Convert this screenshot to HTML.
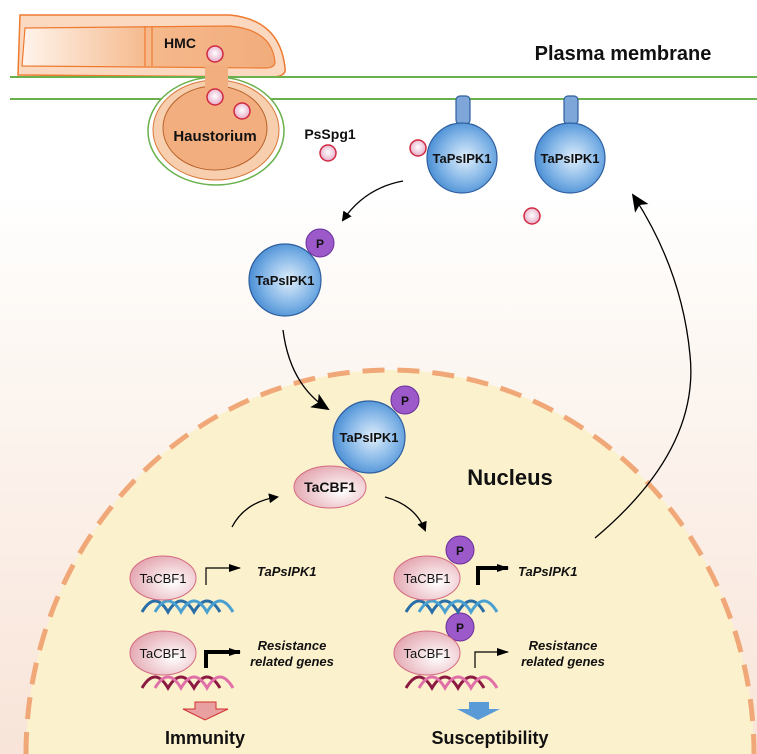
<!DOCTYPE html>
<html><head><meta charset="utf-8"><style>
html,body{margin:0;padding:0;background:#fff;width:757px;height:754px;overflow:hidden}
svg{display:block;overflow:hidden}
text{font-family:"Liberation Sans",Arial,sans-serif;font-weight:bold;fill:#111}
</style></head><body>
<svg width="757" height="754" viewBox="0 0 757 754" xmlns="http://www.w3.org/2000/svg">
<defs>
<linearGradient id="cyto" x1="0" y1="0" x2="0" y2="1">
<stop offset="0" stop-color="#ffffff"/><stop offset="0.25" stop-color="#fdf8f4"/><stop offset="1" stop-color="#f8e4d8"/>
</linearGradient>
<radialGradient id="blue" cx="0.55" cy="0.5" r="0.6">
<stop offset="0" stop-color="#dfeefb"/><stop offset="0.6" stop-color="#7fb3e6"/><stop offset="1" stop-color="#3d85cf"/>
</radialGradient>
<radialGradient id="pink" cx="0.65" cy="0.6" r="0.7">
<stop offset="0" stop-color="#ffffff"/><stop offset="1" stop-color="#e3a4ae"/>
</radialGradient>
<radialGradient id="dot" cx="0.5" cy="0.45" r="0.6">
<stop offset="0" stop-color="#ffffff"/><stop offset="1" stop-color="#e4a4c4"/>
</radialGradient>
<linearGradient id="hyph" x1="0" y1="0" x2="1" y2="0">
<stop offset="0" stop-color="#fff4ec"/><stop offset="0.5" stop-color="#f5b98c"/><stop offset="1" stop-color="#f2ac7c"/>
</linearGradient>
<marker id="ah" markerWidth="10" markerHeight="10" refX="8" refY="5" orient="auto" markerUnits="userSpaceOnUse">
<path d="M0,0 L10,5 L0,10 z" fill="#000"/></marker>
<marker id="ahb" markerWidth="18" markerHeight="16" refX="16" refY="8" orient="auto" markerUnits="userSpaceOnUse">
<path d="M0,0 L18,8 L0,16 L4,8 z" fill="#000"/></marker>
<marker id="ahs" markerWidth="12" markerHeight="8" refX="11" refY="4" orient="auto" markerUnits="userSpaceOnUse">
<path d="M0,0 L12,4 L0,8 z" fill="#000"/></marker>
</defs>
<rect x="0" y="190" width="757" height="564" fill="url(#cyto)"/>
<rect x="0" y="0" width="757" height="190" fill="#fff"/>
<path d="M26,754 A364,384 0 0,1 754,754 Z" fill="#fcf1cd"/>
<path d="M26,754 A364,384 0 0,1 754,754" fill="none" stroke="#f0a878" stroke-width="5" stroke-dasharray="22,13"/>
<path d="M20,15 L230,15 Q280,20 285,68 Q287,77 270,77 L18,75 Z" fill="#fbd9c0" stroke="#ee7a30" stroke-width="1.5"/>
<path d="M25,28 L230,26 Q272,30 275,62 Q275,68 265,68 L22,66 Z" fill="url(#hyph)" stroke="#ee7a30" stroke-width="1.2"/>
<line x1="145" y1="26" x2="145" y2="66" stroke="#ee7a30" stroke-width="1.2"/>
<line x1="152" y1="26" x2="152" y2="66" stroke="#ee7a30" stroke-width="1.2"/>
<line x1="10" y1="77" x2="757" y2="77" stroke="#6ab04c" stroke-width="2"/>
<line x1="10" y1="99" x2="757" y2="99" stroke="#6ab04c" stroke-width="2"/>
<ellipse cx="216" cy="131" rx="68" ry="54" fill="#fff" stroke="#6ab04c" stroke-width="1.5"/>
<ellipse cx="216" cy="130" rx="63" ry="50" fill="#f8cfae" stroke="#d8783a" stroke-width="1"/>
<ellipse cx="215" cy="128" rx="52" ry="42" fill="#f2ae7e" stroke="#b8622a" stroke-width="1"/>
<rect x="205" y="65" width="23" height="24" fill="#f2ae7e"/>
<text x="180" y="48" font-size="14" text-anchor="middle">HMC</text>
<text x="215" y="141" font-size="15" text-anchor="middle">Haustorium</text>
<text x="330" y="139" font-size="14" text-anchor="middle">PsSpg1</text>
<g fill="url(#dot)" stroke="#d02a40" stroke-width="1.5">
<circle cx="215" cy="54" r="8"/><circle cx="215" cy="97" r="8"/><circle cx="242" cy="111" r="8"/>
<circle cx="328" cy="153" r="8"/><circle cx="418" cy="148" r="8"/><circle cx="532" cy="216" r="8"/>
</g>
<text x="623" y="60" font-size="20" text-anchor="middle">Plasma membrane</text>
<g stroke="#2f5f9f" stroke-width="1.2">
<rect x="456" y="96" width="14" height="28" rx="4" fill="#7ea6d8"/>
<rect x="564" y="96" width="14" height="28" rx="4" fill="#7ea6d8"/>
<circle cx="462" cy="158" r="35" fill="url(#blue)"/>
<circle cx="570" cy="158" r="35" fill="url(#blue)"/>
<circle cx="285" cy="280" r="36" fill="url(#blue)"/>
<circle cx="369" cy="437" r="36" fill="url(#blue)"/>
</g>
<g font-size="13" text-anchor="middle">
<text x="462" y="163">TaPsIPK1</text><text x="570" y="163">TaPsIPK1</text>
<text x="285" y="285">TaPsIPK1</text><text x="369" y="442">TaPsIPK1</text>
</g>
<g fill="#9b59c9" stroke="#6a2f9a" stroke-width="1">
<circle cx="320" cy="243" r="14"/><circle cx="405" cy="400" r="14"/>
<circle cx="460" cy="550" r="14"/><circle cx="460" cy="627" r="14"/>
</g>
<g font-size="12" text-anchor="middle"><text x="320" y="248">P</text><text x="405" y="405">P</text><text x="460" y="555">P</text><text x="460" y="632">P</text></g>
<ellipse cx="330" cy="487" rx="36" ry="21" fill="url(#pink)" stroke="#d46a82" stroke-width="1"/>
<text x="330" y="492" font-size="14" text-anchor="middle">TaCBF1</text>
<g fill="none" stroke="#000" stroke-width="1.3">
<path d="M403,181 Q365,188 343,220" marker-end="url(#ah)"/>
<path d="M283,330 Q290,385 328,409" marker-end="url(#ahb)"/>
<path d="M232,527 Q245,502 277,497" marker-end="url(#ah)"/>
<path d="M385,497 Q415,505 425,530" marker-end="url(#ah)"/>
<path d="M595,538 Q700,450 690,355 Q682,270 633,195" marker-end="url(#ahb)"/>
</g>
<text x="510" y="485" font-size="22" text-anchor="middle">Nucleus</text>
<g fill="none" stroke-width="3">
<g stroke="#2a6ea8"><path d="M142,612 q13,-22 26,0 q13,-22 26,0 q13,-22 26,0"/><path d="M155,612 q13,-22 26,0 q13,-22 26,0 q13,-22 26,0" stroke="#4aa0d0"/></g>
<g stroke="#2a6ea8"><path d="M406,612 q13,-22 26,0 q13,-22 26,0 q13,-22 26,0"/><path d="M419,612 q13,-22 26,0 q13,-22 26,0 q13,-22 26,0" stroke="#4aa0d0"/></g>
<g stroke="#8a1a40"><path d="M142,688 q13,-22 26,0 q13,-22 26,0 q13,-22 26,0"/><path d="M155,688 q13,-22 26,0 q13,-22 26,0 q13,-22 26,0" stroke="#e070a8"/></g>
<g stroke="#8a1a40"><path d="M406,688 q13,-22 26,0 q13,-22 26,0 q13,-22 26,0"/><path d="M419,688 q13,-22 26,0 q13,-22 26,0 q13,-22 26,0" stroke="#e070a8"/></g>
</g>
<g fill="url(#pink)" stroke="#d46a82" stroke-width="1">
<ellipse cx="163" cy="578" rx="33" ry="22"/><ellipse cx="163" cy="653" rx="33" ry="22"/>
<ellipse cx="427" cy="578" rx="33" ry="22"/><ellipse cx="427" cy="653" rx="33" ry="22"/>
</g>
<g font-size="13" text-anchor="middle">
<text x="163" y="583" style="font-weight:normal">TaCBF1</text><text x="163" y="658" style="font-weight:normal">TaCBF1</text>
<text x="427" y="583" style="font-weight:normal">TaCBF1</text><text x="427" y="658" style="font-weight:normal">TaCBF1</text>
</g>
<g fill="none" stroke="#000">
<path d="M206,585 V568 H240" stroke-width="1.2" marker-end="url(#ahs)"/>
<path d="M206,668 V652 H240" stroke-width="4" marker-end="url(#ahs)"/>
<path d="M478,585 V568 H508" stroke-width="4" marker-end="url(#ahs)"/>
<path d="M475,668 V652 H508" stroke-width="1.2" marker-end="url(#ahs)"/>
</g>
<g font-size="13" font-style="italic">
<text x="257" y="576">TaPsIPK1</text><text x="518" y="576">TaPsIPK1</text>
<text x="292" y="650" text-anchor="middle">Resistance</text><text x="292" y="666" text-anchor="middle">related genes</text>
<text x="563" y="650" text-anchor="middle">Resistance</text><text x="563" y="666" text-anchor="middle">related genes</text>
</g>
<path d="M195,702 H216 V709 H228 L205,720 L183,709 H195 Z" fill="#e8a0a0" stroke="#d03030" stroke-width="1"/>
<path d="M469,702 H489 V709 H500 L478,720 L457,709 H469 Z" fill="#5a9ad6"/>
<text x="205" y="744" font-size="18" text-anchor="middle">Immunity</text>
<text x="490" y="744" font-size="18" text-anchor="middle">Susceptibility</text>
</svg>
</body></html>
